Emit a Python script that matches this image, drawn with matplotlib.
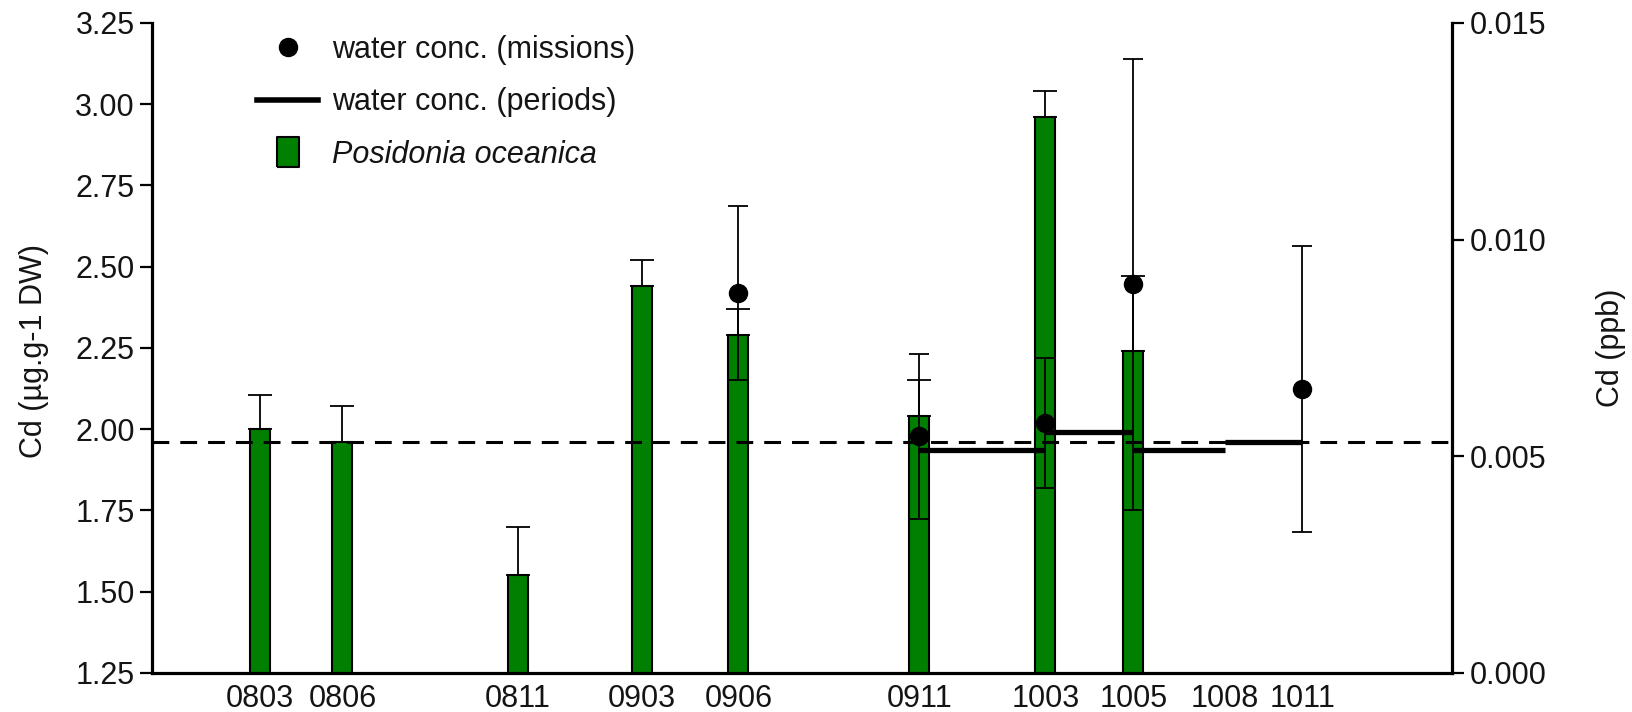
import matplotlib
matplotlib.use("Agg")
import matplotlib.pyplot as plt
from matplotlib.lines import Line2D

plt.rcParams['font.family'] = ['Liberation Sans', 'DejaVu Sans']

# sampling campaigns (yymm) and their day offset since 2008-01-01
labels = ['0803', '0806', '0811', '0903', '0906', '0911', '1003', '1005', '1008', '1011']
sample_day = [75, 152, 316, 432, 522, 691, 809, 891, 977, 1049]

# Posidonia oceanica Cd (ug/g DW), campaigns 0803 .. 1005
posidonia_labels = ['0803', '0806', '0811', '0903', '0906', '0911', '1003', '1005']
posidonia_mean = [2.00, 1.96, 1.55, 2.44, 2.29, 2.04, 2.96, 2.24]
posidonia_err = [0.105, 0.11, 0.15, 0.08, 0.08, 0.11, 0.08, 0.23]

# water concentration, missions (ppb)
mission_labels = ['0906', '0911', '1003', '1005', '1011']
mission_mean = [0.00877, 0.00546, 0.00577, 0.00897, 0.00656]
mission_err = [0.0020, 0.0019, 0.0015, 0.0052, 0.0033]

# water concentration, integrated periods (ppb)
period_start = ['0911', '1003', '1005', '1008']
period_end = ['1003', '1005', '1008', '1011']
period_conc = [0.00515, 0.00556, 0.00515, 0.00533]

reference_level = 0.00533   # dashed line, right axis

GREEN = '#007f00'
TXT = '#141414'
FS = 22

day_of = dict(zip(labels, sample_day))

fig = plt.figure(figsize=(16.33, 7.12), dpi=100)
ax = fig.add_axes([0.0931, 0.0548, 0.7961, 0.9129])
ax2 = ax.twinx()

# bars
px = [day_of[l] for l in posidonia_labels]
ax.bar(px, posidonia_mean, width=18.7, bottom=0, color=GREEN,
       edgecolor='black', linewidth=1.5, zorder=2)
ax.errorbar(px, posidonia_mean, yerr=[[0] * len(px), posidonia_err], fmt='none',
            ecolor='black', elinewidth=1.3, capsize=8.5, capthick=1.3, zorder=3)

# water: missions
mx = [day_of[l] for l in mission_labels]
ax2.errorbar(mx, mission_mean, yerr=mission_err, fmt='o', color='black',
             ms=13, elinewidth=1.3, capsize=7.2, capthick=1.3, zorder=4)

# water: periods
for s, e, c in zip(period_start, period_end, period_conc):
    ax2.plot([day_of[s], day_of[e]], [c, c], color='black', lw=3.8,
             solid_capstyle='butt', zorder=3)

ax2.axhline(reference_level, color='black', lw=2.2, ls=(0, (5.5, 3.6)), zorder=5)

ax.set_xlim(-26, 1189)
ax.set_ylim(1.25, 3.25)
ax2.set_ylim(0, 0.015)

ax.set_yticks([1.25, 1.50, 1.75, 2.00, 2.25, 2.50, 2.75, 3.00, 3.25])
ax.set_yticklabels([f'{v:.2f}' for v in ax.get_yticks()])
ax2.set_yticks([0.000, 0.005, 0.010, 0.015])
ax2.set_yticklabels([f'{v:.3f}' for v in ax2.get_yticks()])
ax.set_xticks(sample_day)
ax.set_xticklabels(labels)

for a in (ax, ax2):
    a.spines['top'].set_visible(False)
    for sp in a.spines.values():
        sp.set_linewidth(2.3)
ax.spines['right'].set_visible(False)
ax2.spines['left'].set_visible(False)
ax2.spines['bottom'].set_visible(False)

ax.tick_params(axis='y', length=8.5, width=1.6, labelsize=FS, pad=4, labelcolor=TXT)
ax.tick_params(axis='x', length=0, labelsize=FS, pad=8, labelcolor=TXT)
ax2.tick_params(axis='y', length=8.5, width=1.6, labelsize=FS, pad=4, labelcolor=TXT)

ax.set_ylabel('Cd (µg.g-1 DW)', fontsize=FS, color=TXT, va='center', ha='center')
ax.yaxis.set_label_coords(-0.0908, 0.495)
ax2.set_ylabel('Cd (ppb)', fontsize=FS, color=TXT, rotation=90, va='center', ha='center')
ax2.yaxis.set_label_coords(1.1223, 0.5)

rect = [(-0.35, -0.5), (0.35, -0.5), (0.35, 0.5), (-0.35, 0.5), (-0.35, -0.5)]
handles = [
    Line2D([], [], ls='none', marker='o', color='black', ms=13),
    Line2D([], [], color='black', lw=4),
    Line2D([], [], ls='none', marker=rect, ms=22, mfc=GREEN, mec='black', mew=1.5),
]
leg = ax2.legend(handles, ['water conc. (missions)', 'water conc. (periods)',
                           'Posidonia oceanica'],
                 loc='upper left', bbox_to_anchor=(257 / 1633, 1 - 35 / 712),
                 bbox_transform=fig.transFigure, frameon=False, fontsize=FS,
                 handlelength=2.0, handletextpad=0.45, labelspacing=0.73,
                 borderaxespad=0, borderpad=0)
for t in leg.get_texts():
    t.set_color(TXT)
leg.get_texts()[2].set_style('italic')

fig.savefig('out.png', dpi=100)
